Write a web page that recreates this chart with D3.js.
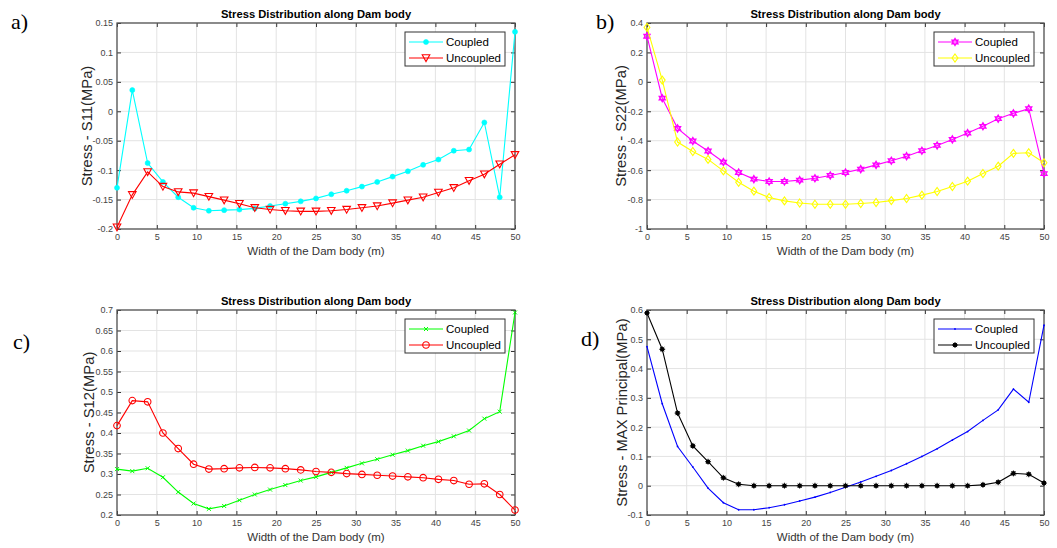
<!DOCTYPE html>
<html><head><meta charset="utf-8">
<script src="https://cdn.jsdelivr.net/npm/d3@7"></script>
<style>body{margin:0;background:#fff;overflow:hidden}svg{display:block}</style>
</head><body>
<svg id="c" width="1057" height="548"></svg>
<script>
const widthX = [0,1.92,3.85,5.77,7.69,9.62,11.54,13.46,15.38,17.31,19.23,21.15,23.08,25,26.92,28.85,30.77,32.69,34.62,36.54,38.46,40.38,42.31,44.23,46.15,48.08,50];
const xTicks = [0,5,10,15,20,25,30,35,40,45,50];

const s11Coupled   = [-0.130,0.036,-0.088,-0.120,-0.146,-0.164,-0.169,-0.168,-0.167,-0.165,-0.161,-0.157,-0.153,-0.148,-0.141,-0.135,-0.128,-0.120,-0.111,-0.102,-0.091,-0.082,-0.067,-0.065,-0.019,-0.146,0.135];
const s11Uncoupled = [-0.197,-0.142,-0.103,-0.128,-0.137,-0.139,-0.145,-0.151,-0.157,-0.164,-0.167,-0.169,-0.170,-0.170,-0.169,-0.167,-0.164,-0.161,-0.156,-0.151,-0.146,-0.138,-0.130,-0.118,-0.107,-0.090,-0.074];
const s11Ticks = [-0.2,-0.15,-0.1,-0.05,0,0.05,0.1,0.15];

const s22Coupled   = [0.310,-0.111,-0.316,-0.402,-0.470,-0.545,-0.616,-0.661,-0.677,-0.677,-0.668,-0.655,-0.636,-0.616,-0.593,-0.564,-0.536,-0.505,-0.468,-0.432,-0.391,-0.348,-0.302,-0.250,-0.214,-0.182,-0.623];
const s22Uncoupled = [0.370,0.012,-0.409,-0.473,-0.527,-0.605,-0.682,-0.743,-0.786,-0.809,-0.823,-0.832,-0.832,-0.832,-0.827,-0.820,-0.807,-0.793,-0.770,-0.745,-0.711,-0.675,-0.623,-0.573,-0.486,-0.482,-0.550];
const s22Ticks = [-1,-0.8,-0.6,-0.4,-0.2,0,0.2,0.4];

const s12Coupled   = [0.312,0.307,0.314,0.292,0.256,0.228,0.215,0.222,0.236,0.250,0.262,0.273,0.284,0.293,0.304,0.315,0.326,0.336,0.347,0.357,0.369,0.379,0.392,0.406,0.435,0.452,0.694];
const s12Uncoupled = [0.418,0.479,0.476,0.400,0.362,0.324,0.312,0.313,0.315,0.316,0.315,0.313,0.310,0.306,0.304,0.301,0.299,0.297,0.295,0.293,0.291,0.287,0.284,0.275,0.276,0.250,0.212];
const s12Ticks = [0.2,0.25,0.3,0.35,0.4,0.45,0.5,0.55,0.6,0.65,0.7];

const maxCoupled   = [0.475,0.280,0.134,0.064,-0.008,-0.058,-0.082,-0.082,-0.075,-0.065,-0.052,-0.039,-0.023,-0.005,0.013,0.032,0.052,0.075,0.100,0.126,0.156,0.185,0.223,0.259,0.330,0.285,0.548];
const maxUncoupled = [0.590,0.466,0.248,0.136,0.082,0.027,0.005,0,0,0,0,0,0,0,0,0,0,0,0,0,0,0,0.003,0.012,0.042,0.039,0.009];
const maxTicks = [-0.1,0,0.1,0.2,0.3,0.4,0.5,0.6];

const seriesNames = ["Coupled","Uncoupled"];
const chartTitle = "Stress Distribution along Dam body";
const xLabel = "Width of the Dam body (m)";

const svg = d3.select("#c");

function hexagram(r){
  const p=[];
  for(let i=0;i<12;i++){
    const a=-Math.PI/2+i*Math.PI/6;
    const rr = i%2===0? r : r*0.58;
    p.push([rr*Math.cos(a), rr*Math.sin(a)]);
  }
  return "M"+p.map(d=>d.join(",")).join("L")+"Z";
}

function drawMarker(g, type, color){
  if(type==="dotstar"){
    g.append("circle").attr("r",2.5).attr("fill",color).attr("stroke",color).attr("stroke-width",0.6);
  } else if(type==="tri"){
    g.append("path").attr("d","M-3.8,-3.2L3.8,-3.2L0,3.6Z").attr("fill","none").attr("stroke",color).attr("stroke-width",1.1);
  } else if(type==="hex"){
    g.append("path").attr("d",hexagram(3.3)).attr("fill","none").attr("stroke",color).attr("stroke-width",1.5);
  } else if(type==="diamond"){
    g.append("path").attr("d","M0,-4L2.9,0L0,4L-2.9,0Z").attr("fill","none").attr("stroke",color).attr("stroke-width",1.1);
  } else if(type==="x"){
    g.append("path").attr("d","M-2,-2L2,2M-2,2L2,-2").attr("fill","none").attr("stroke",color).attr("stroke-width",1);
  } else if(type==="circle"){
    g.append("circle").attr("r",3.3).attr("fill","none").attr("stroke",color).attr("stroke-width",1.1);
  } else if(type==="point"){
    g.append("circle").attr("r",0.9).attr("fill",color);
  } else if(type==="black"){
    g.append("circle").attr("r",2.3).attr("fill",color);
    g.append("path").attr("d","M-3,0L3,0M0,-3L0,3M-2.1,-2.1L2.1,2.1M-2.1,2.1L2.1,-2.1").attr("stroke",color).attr("stroke-width",0.8);
  }
}

const fmt = v => String(+v.toFixed(2));

function panel(cfg){
  const x = d3.scaleLinear().domain([0,50]).range([cfg.x0,cfg.x1]);
  const y = d3.scaleLinear().domain(cfg.yDomain).range([cfg.y1,cfg.y0]);
  const g = svg.append("g");
  g.append("g").selectAll("line").data(xTicks).join("line")
    .attr("x1",d=>x(d)).attr("x2",d=>x(d)).attr("y1",cfg.y0).attr("y2",cfg.y1)
    .attr("stroke","#e3e3e3").attr("stroke-width",1);
  g.append("g").selectAll("line").data(cfg.yTicks).join("line")
    .attr("y1",d=>y(d)).attr("y2",d=>y(d)).attr("x1",cfg.x0).attr("x2",cfg.x1)
    .attr("stroke","#e3e3e3").attr("stroke-width",1);
  const ax = g.append("g").attr("transform",`translate(0,${cfg.y1})`)
    .call(d3.axisBottom(x).tickValues(xTicks).tickFormat(d=>d).tickSizeInner(-4).tickSizeOuter(0).tickPadding(5));
  const axT = g.append("g").attr("transform",`translate(0,${cfg.y0})`)
    .call(d3.axisTop(x).tickValues(xTicks).tickFormat("").tickSizeInner(-4).tickSizeOuter(0));
  const ay = g.append("g").attr("transform",`translate(${cfg.x0},0)`)
    .call(d3.axisLeft(y).tickValues(cfg.yTicks).tickFormat(fmt).tickSizeInner(-4).tickSizeOuter(0).tickPadding(4));
  const ayR = g.append("g").attr("transform",`translate(${cfg.x1},0)`)
    .call(d3.axisRight(y).tickValues(cfg.yTicks).tickFormat("").tickSizeInner(-4).tickSizeOuter(0));
  [ax,axT,ay,ayR].forEach(a=>{
    a.select(".domain").remove();
    a.selectAll(".tick line").attr("stroke","#333");
    a.selectAll("text").attr("font-family","Liberation Sans, Arial, sans-serif").attr("font-size","9px").attr("fill","#444");
  });
  g.append("rect").attr("x",cfg.x0).attr("y",cfg.y0).attr("width",cfg.x1-cfg.x0).attr("height",cfg.y1-cfg.y0)
    .attr("fill","none").attr("stroke","#555").attr("stroke-width",1.3);
  cfg.series.forEach(s=>{
    const pts = widthX.map((v,i)=>[v,s.values[i]]);
    g.append("path").datum(pts).attr("fill","none").attr("stroke",s.color).attr("stroke-width",1.1)
      .attr("d",d3.line().x(d=>x(d[0])).y(d=>y(d[1])));
    g.append("g").selectAll("g").data(pts).join("g")
      .attr("transform",d=>`translate(${x(d[0])},${y(d[1])})`)
      .each(function(){ drawMarker(d3.select(this), s.marker, s.color); });
  });
  const cx = (cfg.x0+cfg.x1)/2;
  g.append("text").attr("x",cx).attr("y",cfg.y0-5).attr("text-anchor","middle")
    .attr("font-family","Liberation Sans, Arial, sans-serif").attr("font-size","11.2px").attr("font-weight","bold").attr("fill","#000")
    .text(chartTitle);
  g.append("text").attr("x",cx).attr("y",cfg.y1+26).attr("text-anchor","middle")
    .attr("font-family","Liberation Sans, Arial, sans-serif").attr("font-size","11.5px").attr("fill","#333")
    .text(xLabel);
  g.append("text").attr("transform",`translate(${cfg.ylx},${(cfg.y0+cfg.y1)/2}) rotate(-90)`).attr("dy","0.35em")
    .attr("text-anchor","middle").attr("font-family","Liberation Sans, Arial, sans-serif").attr("font-size","14.8px").attr("fill","#262626")
    .text(cfg.yLabel);
  svg.append("text").attr("x",cfg.lx).attr("y",cfg.ly).attr("font-family","Liberation Serif, Times New Roman, serif")
    .attr("font-size","22px").attr("fill","#000").text(cfg.letter);
  const lg = g.append("g").attr("transform",`translate(${cfg.x1-110},${cfg.y0+9})`);
  lg.append("rect").attr("width",100).attr("height",34).attr("fill","#fff").attr("stroke","#333").attr("stroke-width",1);
  cfg.series.forEach((s,i)=>{
    const yy = 10+i*16;
    lg.append("line").attr("x1",4).attr("x2",38).attr("y1",yy).attr("y2",yy).attr("stroke",s.color).attr("stroke-width",1.1);
    const m = lg.append("g").attr("transform",`translate(21,${yy})`);
    drawMarker(m, s.marker, s.color);
    lg.append("text").attr("x",41).attr("y",yy).attr("dy","0.35em").attr("font-family","Liberation Sans, Arial, sans-serif")
      .attr("font-size","11.5px").attr("fill","#000").text(seriesNames[i]);
  });
}

panel({x0:117,x1:515,y0:23,y1:229,yDomain:[-0.2,0.15],yTicks:s11Ticks,yLabel:"Stress - S11(MPa)",ylx:87,letter:"a)",lx:11,ly:29,
  series:[{values:s11Coupled,color:"#00ffff",marker:"dotstar"},{values:s11Uncoupled,color:"#ff0000",marker:"tri"}]});
panel({x0:647,x1:1044,y0:23,y1:229,yDomain:[-1,0.4],yTicks:s22Ticks,yLabel:"Stress - S22(MPa)",ylx:621,letter:"b)",lx:596,ly:29,
  series:[{values:s22Coupled,color:"#ff00ff",marker:"hex"},{values:s22Uncoupled,color:"#ffff00",marker:"diamond"}]});
panel({x0:117,x1:515,y0:310,y1:515,yDomain:[0.2,0.7],yTicks:s12Ticks,yLabel:"Stress - S12(MPa)",ylx:89,letter:"c)",lx:13,ly:349,
  series:[{values:s12Coupled,color:"#00ff00",marker:"x"},{values:s12Uncoupled,color:"#ff0000",marker:"circle"}]});
panel({x0:647,x1:1044,y0:310,y1:515,yDomain:[-0.1,0.6],yTicks:maxTicks,yLabel:"Stress - MAX Principal(MPa)",ylx:622,letter:"d)",lx:581,ly:346,
  series:[{values:maxCoupled,color:"#0000ff",marker:"point"},{values:maxUncoupled,color:"#000000",marker:"black"}]});
</script>
</body></html>
